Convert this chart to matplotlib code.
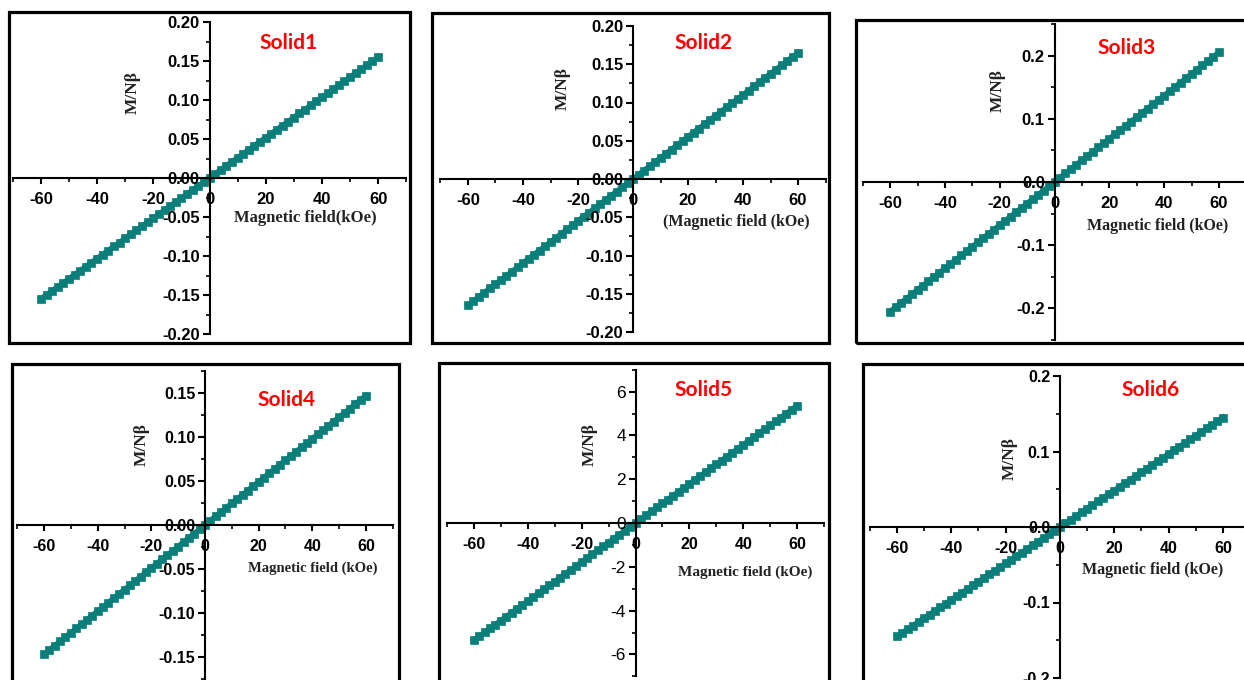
import matplotlib
matplotlib.use("Agg")
import matplotlib.pyplot as plt
from matplotlib.patches import Rectangle
from matplotlib.ticker import MultipleLocator

W, H = 1244, 680
fig = plt.figure(figsize=(W / 100, H / 100), dpi=100)

# ---------------- data ----------------
field = [-60, -58, -56, -54, -52, -50, -48, -46, -44, -42, -40, -38, -36, -34, -32, -30,
         -28, -26, -24, -22, -20, -18, -16, -14, -12, -10, -8, -6, -4, -2, 0,
         2, 4, 6, 8, 10, 12, 14, 16, 18, 20, 22, 24, 26, 28, 30,
         32, 34, 36, 38, 40, 42, 44, 46, 48, 50, 52, 54, 56, 58, 60]

solid1 = [-0.1550, -0.1498, -0.1447, -0.1395, -0.1343, -0.1292, -0.1240, -0.1188,
          -0.1137, -0.1085, -0.1033, -0.0982, -0.0930, -0.0878, -0.0827, -0.0775,
          -0.0723, -0.0672, -0.0620, -0.0568, -0.0517, -0.0465, -0.0413, -0.0362,
          -0.0310, -0.0258, -0.0207, -0.0155, -0.0103, -0.0052, 0.0,
          0.0052, 0.0103, 0.0155, 0.0207, 0.0258, 0.0310, 0.0362, 0.0413, 0.0465,
          0.0517, 0.0568, 0.0620, 0.0672, 0.0723, 0.0775, 0.0827, 0.0878, 0.0930,
          0.0982, 0.1033, 0.1085, 0.1137, 0.1188, 0.1240, 0.1292, 0.1343, 0.1395,
          0.1447, 0.1498, 0.1550]
solid2 = [-0.1650, -0.1595, -0.1540, -0.1485, -0.1430, -0.1375, -0.1320, -0.1265,
          -0.1210, -0.1155, -0.1100, -0.1045, -0.0990, -0.0935, -0.0880, -0.0825,
          -0.0770, -0.0715, -0.0660, -0.0605, -0.0550, -0.0495, -0.0440, -0.0385,
          -0.0330, -0.0275, -0.0220, -0.0165, -0.0110, -0.0055, 0.0,
          0.0055, 0.0110, 0.0165, 0.0220, 0.0275, 0.0330, 0.0385, 0.0440, 0.0495,
          0.0550, 0.0605, 0.0660, 0.0715, 0.0770, 0.0825, 0.0880, 0.0935, 0.0990,
          0.1045, 0.1100, 0.1155, 0.1210, 0.1265, 0.1320, 0.1375, 0.1430, 0.1485,
          0.1540, 0.1595, 0.1650]
solid3 = [-0.2050, -0.1982, -0.1913, -0.1845, -0.1777, -0.1708, -0.1640, -0.1572,
          -0.1503, -0.1435, -0.1367, -0.1298, -0.1230, -0.1162, -0.1093, -0.1025,
          -0.0957, -0.0888, -0.0820, -0.0752, -0.0683, -0.0615, -0.0547, -0.0478,
          -0.0410, -0.0342, -0.0273, -0.0205, -0.0137, -0.0068, 0.0,
          0.0068, 0.0137, 0.0205, 0.0273, 0.0342, 0.0410, 0.0478, 0.0547, 0.0615,
          0.0683, 0.0752, 0.0820, 0.0888, 0.0957, 0.1025, 0.1093, 0.1162, 0.1230,
          0.1298, 0.1367, 0.1435, 0.1503, 0.1572, 0.1640, 0.1708, 0.1777, 0.1845,
          0.1913, 0.1982, 0.2050]
solid4 = [-0.1470, -0.1421, -0.1372, -0.1323, -0.1274, -0.1225, -0.1176, -0.1127,
          -0.1078, -0.1029, -0.0980, -0.0931, -0.0882, -0.0833, -0.0784, -0.0735,
          -0.0686, -0.0637, -0.0588, -0.0539, -0.0490, -0.0441, -0.0392, -0.0343,
          -0.0294, -0.0245, -0.0196, -0.0147, -0.0098, -0.0049, 0.0,
          0.0049, 0.0098, 0.0147, 0.0196, 0.0245, 0.0294, 0.0343, 0.0392, 0.0441,
          0.0490, 0.0539, 0.0588, 0.0637, 0.0686, 0.0735, 0.0784, 0.0833, 0.0882,
          0.0931, 0.0980, 0.1029, 0.1078, 0.1127, 0.1176, 0.1225, 0.1274, 0.1323,
          0.1372, 0.1421, 0.1470]
solid5 = [-5.350, -5.172, -4.993, -4.815, -4.637, -4.458, -4.280, -4.102,
          -3.923, -3.745, -3.567, -3.388, -3.210, -3.032, -2.853, -2.675,
          -2.497, -2.318, -2.140, -1.962, -1.783, -1.605, -1.427, -1.248,
          -1.070, -0.892, -0.713, -0.535, -0.357, -0.178, 0.0,
          0.178, 0.357, 0.535, 0.713, 0.892, 1.070, 1.248, 1.427, 1.605,
          1.783, 1.962, 2.140, 2.318, 2.497, 2.675, 2.853, 3.032, 3.210,
          3.388, 3.567, 3.745, 3.923, 4.102, 4.280, 4.458, 4.637, 4.815,
          4.993, 5.172, 5.350]
solid6 = [-0.1450, -0.1402, -0.1353, -0.1305, -0.1257, -0.1208, -0.1160, -0.1112,
          -0.1063, -0.1015, -0.0967, -0.0918, -0.0870, -0.0822, -0.0773, -0.0725,
          -0.0677, -0.0628, -0.0580, -0.0532, -0.0483, -0.0435, -0.0387, -0.0338,
          -0.0290, -0.0242, -0.0193, -0.0145, -0.0097, -0.0048, 0.0,
          0.0048, 0.0097, 0.0145, 0.0193, 0.0242, 0.0290, 0.0338, 0.0387, 0.0435,
          0.0483, 0.0532, 0.0580, 0.0628, 0.0677, 0.0725, 0.0773, 0.0822, 0.0870,
          0.0918, 0.0967, 0.1015, 0.1063, 0.1112, 0.1160, 0.1208, 0.1257, 0.1305,
          0.1353, 0.1402, 0.1450]

titles = ["Solid1", "Solid2", "Solid3", "Solid4", "Solid5", "Solid6"]
xlabels = ["Magnetic field(kOe)", "(Magnetic field (kOe)", "Magnetic field (kOe)",
           "Magnetic field (kOe)", "Magnetic field (kOe)", "Magnetic field (kOe)"]
ylabel = "M/N\u03b2"
series = [solid1, solid2, solid3, solid4, solid5, solid6]
ylims = [(-0.2, 0.2), (-0.2, 0.2), (-0.25, 0.25), (-0.175, 0.175), (-7, 7), (-0.2, 0.2)]
ymajor = [0.05, 0.05, 0.1, 0.05, 2, 0.1]
yfmt = ["%.2f", "%.2f", "%.1f", "%.2f", "%d", "%.1f"]

# ---------------- layout (pixels) ----------------
axes_px = [(12.8, 406.2, 22, 334), (440.5, 825.5, 26, 332), (862.7, 1246.3, 24, 340),
           (17.2, 392.8, 371, 679), (447, 824, 369.7, 676.3), (869.8, 1250, 376, 678)]
frames_px = [(9, 410, 12, 343), (432, 829, 13, 343), (856, 1260, 20, 343),
             (12, 399, 364, 700), (439, 829, 363, 700), (863, 1260, 364, 700)]
title_px = [(289, 43), (704, 43), (1127, 48), (286, 400), (704, 390), (1151, 390)]
ylab_px = [(133, 93), (563, 88), (998, 90), (142, 445), (590, 445), (1010, 458)]
xlab_px = [(305, 218), (736, 222), (1158, 226), (313, 568), (745, 572), (1153, 570)]
xlab_size = [12, 11.5, 11.5, 10.5, 11, 11.5]
msizes = [5.4, 5.6, 5.8, 5.3, 6.2, 5.4]

teal = "#0a7f7a"

for i in range(6):
    l, r, t, b = axes_px[i]
    ax = fig.add_axes([l / W, 1 - b / H, (r - l) / W, (b - t) / H])
    ax.plot(field, series[i], color=teal, lw=4.0, marker="s", ms=msizes[i],
            mec=teal, mfc=teal, mew=0.5, clip_on=False, zorder=1)
    ax.set_xlim(-70, 70)
    ax.set_ylim(*ylims[i])
    ax.patch.set_alpha(0)
    for s in ["top", "right"]:
        ax.spines[s].set_visible(False)
    ax.spines["left"].set_position(("data", 0))
    ax.spines["bottom"].set_position(("data", 0))
    for s in ["left", "bottom"]:
        ax.spines[s].set_linewidth(1.5)
        ax.spines[s].set_zorder(2)
    ax.xaxis.set_minor_locator(MultipleLocator(10))
    ax.yaxis.set_major_locator(MultipleLocator(ymajor[i]))
    ax.yaxis.set_minor_locator(MultipleLocator(ymajor[i] / 2))
    ax.set_xticks([-60, -40, -20, 0, 20, 40, 60])
    ax.xaxis.set_major_formatter(plt.FormatStrFormatter("%d"))
    ax.yaxis.set_major_formatter(plt.FormatStrFormatter(yfmt[i]))
    ax.tick_params(axis="x", which="major", direction="out", length=4, width=1.5, pad=6)
    ax.tick_params(axis="x", which="minor", direction="out", length=3, width=1.2)
    ax.tick_params(axis="y", which="major", direction="out", length=5, width=1.5, pad=2)
    ax.tick_params(axis="y", which="minor", direction="out", length=3, width=1.2)
    weight = "normal" if i == 4 else "bold"
    xs = 12 if i < 3 else 11.5
    for lab in ax.get_xticklabels():
        lab.set_fontfamily("Liberation Sans")
        lab.set_fontweight("bold")
        lab.set_fontsize(xs)
    for lab in ax.get_yticklabels():
        lab.set_fontfamily("Liberation Sans")
        lab.set_fontweight(weight)
        lab.set_fontsize(12.5 if i == 4 else xs)

    fl, fr, ft, fb = frames_px[i]
    fig.patches.append(Rectangle((fl / W, 1 - fb / H), (fr - fl) / W, (fb - ft) / H,
                                 transform=fig.transFigure, fill=False,
                                 edgecolor="black", lw=2.3, zorder=5))
    tx, ty = title_px[i]
    fig.text(tx / W, 1 - ty / H, titles[i], color="#ff0000", fontsize=15,
             fontweight="bold", family="Lato", ha="center", va="center")
    yx, yy = ylab_px[i]
    fig.text(yx / W, 1 - yy / H, ylabel, rotation=90, fontsize=12.5,
             fontweight="bold", family="Liberation Serif", color="#222222",
             ha="center", va="center")
    lx, ly = xlab_px[i]
    fig.text(lx / W, 1 - ly / H, xlabels[i], fontsize=xlab_size[i],
             fontweight="bold", family="Liberation Serif", color="#222222",
             ha="center", va="center")

fig.savefig("out.png", dpi=100)
